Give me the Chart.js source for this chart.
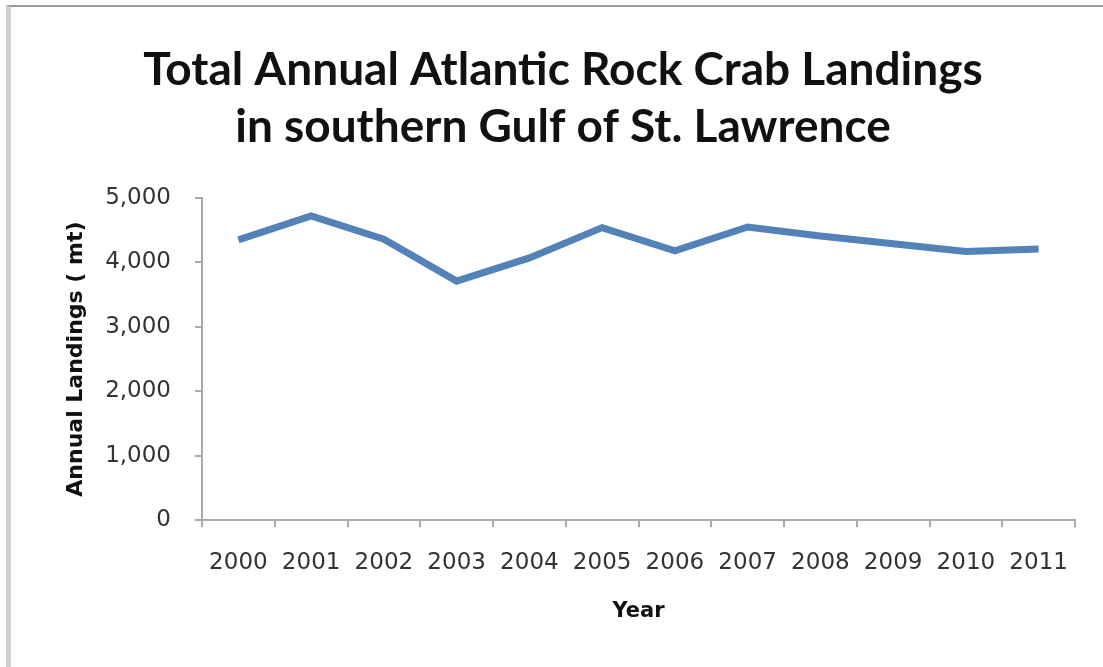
<!DOCTYPE html>
<html>
<head>
<meta charset="utf-8">
<script src="https://cdn.jsdelivr.net/npm/chart.js@4.4.1/dist/chart.umd.min.js"></script>
<style>
  body { margin: 0; background: #fff; }
  #frame {
    position: absolute; left: 6px; top: 5px; width: 1200px; height: 800px;
    border-top: 2px solid #9a9a9a; border-left: 5px solid #d0d0d0;
  }
  #wrap { position: absolute; left: 0; top: 0; width: 1103px; height: 667px; }
</style>
</head>
<body>
<div id="frame"></div>
<div id="wrap"><canvas id="crabChart" width="1103" height="667"></canvas></div>
<script>
const years = ['2000', '2001', '2002', '2003', '2004', '2005', '2006', '2007', '2008', '2009', '2010', '2011'];
const landings = [4350, 4720, 4360, 3710, 4070, 4540, 4180, 4550, 4410, 4290, 4170, 4210];
const yTicks = [0, 1000, 2000, 3000, 4000, 5000];
const chartTitle = ['Total Annual Atlantic Rock Crab Landings', 'in southern Gulf of St. Lawrence'];

const axisGray = '#ababab';
const tickFont = { family: 'DejaVu Sans', size: 23 };

const ctx = document.getElementById('crabChart').getContext('2d');
new Chart(ctx, {
  type: 'line',
  data: {
    labels: years,
    datasets: [{
      label: 'Landings',
      data: landings,
      borderColor: '#5282b8',
      borderWidth: 7,
      pointRadius: 0,
      tension: 0,
      fill: false
    }]
  },
  options: {
    responsive: false,
    animation: false,
    layout: { padding: { left: 51, right: 28, top: 0, bottom: 43 } },
    plugins: {
      legend: { display: false },
      tooltip: { enabled: false },
      title: {
        display: true,
        text: chartTitle,
        color: '#111',
        font: { family: 'Lato', weight: 'bold', size: 46, lineHeight: 1.239 },
        padding: { top: 42, bottom: 42 }
      }
    },
    scales: {
      x: {
        offset: true,
        grid: { offset: true, drawOnChartArea: false, color: axisGray, tickLength: 7, lineWidth: 2 },
        border: { color: axisGray, width: 2 },
        ticks: { color: '#333', font: tickFont, padding: 22, maxRotation: 0, autoSkip: false },
        title: {
          display: true,
          text: 'Year',
          color: '#111',
          font: { family: 'DejaVu Sans', weight: 'bold', size: 21, lineHeight: 1.2 },
          padding: { top: 0, bottom: 0 }
        }
      },
      y: {
        min: yTicks[0],
        max: yTicks[yTicks.length - 1],
        afterBuildTicks: scale => { scale.ticks = yTicks.map(v => ({ value: v })); },
        afterFit: scale => { scale.width = 151; },
        grid: { drawOnChartArea: false, color: axisGray, tickLength: 7, lineWidth: 2 },
        border: { color: axisGray, width: 2 },
        ticks: {
          color: '#333',
          font: tickFont,
          padding: 24,
          callback: v => v.toLocaleString('en-US')
        },
        title: {
          display: true,
          text: 'Annual Landings ( mt)',
          color: '#111',
          font: { family: 'DejaVu Sans', weight: 'bold', size: 22, lineHeight: 1.2 },
          padding: { top: 12, bottom: 0 }
        }
      }
    }
  }
});
</script>
</body>
</html>
